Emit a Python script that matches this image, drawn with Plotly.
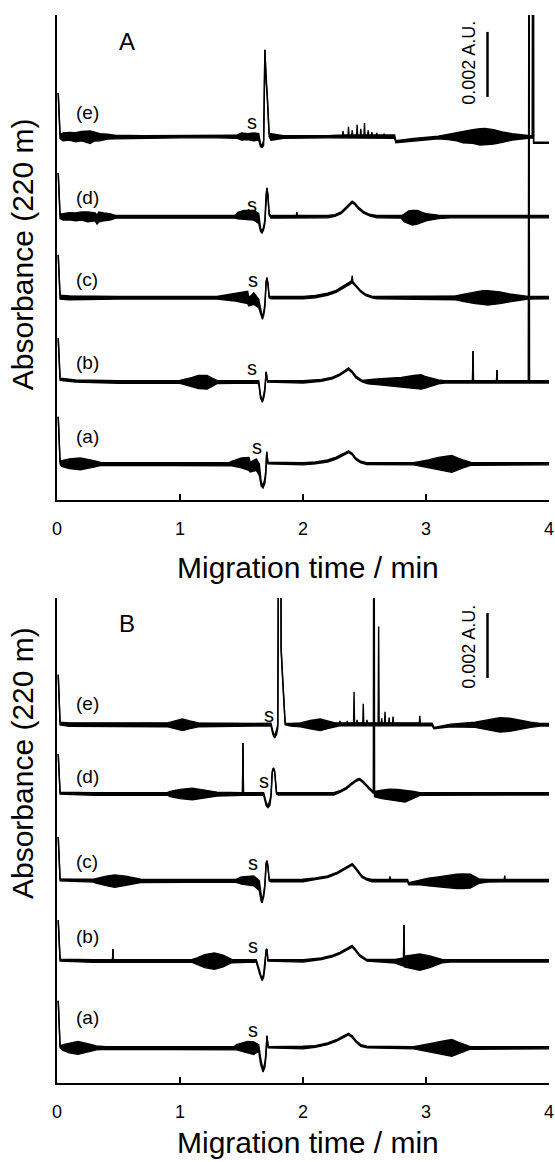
import plotly.graph_objects as go

# ---- data: (time / min, lower envelope, upper envelope) offsets in mAU from each trace baseline ----
time_ticks = [0, 1, 2, 3, 4]
trace_names = ["(a)", "(b)", "(c)", "(d)", "(e)"]

A_base = {"(a)": 1.11, "(b)": 3.63, "(c)": 6.22, "(d)": 8.71, "(e)": 11.17}
B_base = {"(a)": 1.08, "(b)": 3.75, "(c)": 6.22, "(d)": 8.89, "(e)": 11.02}

A_e = [(0.01, 1.35, 1.35), (0.025, -0.05, 0.08), (0.05, -0.12, 0.12), (0.1, -0.1, 0.14), (0.15, -0.15, 0.13),
       (0.2, -0.12, 0.17), (0.27, -0.2, 0.18), (0.3, -0.13, 0.15), (0.35, -0.12, 0.1), (0.41, -0.07, 0.08),
       (0.47, -0.06, 0.05), (0.7, -0.04, 0.04), (1.0, -0.03, 0.04), (1.3, -0.03, 0.04),
       (1.46, -0.04, 0.05), (1.5, -0.1, 0.12), (1.55, -0.08, 0.1), (1.6, -0.12, 0.12), (1.64, -0.1, 0.1),
       (1.655, -0.3, -0.22), (1.67, -0.32, -0.25), (1.68, -0.25, -0.1), (1.69, 2.68, 2.68), (1.70, 1.7, 1.9),
       (1.71, 1.25, 1.3), (1.725, 0.0, 0.1), (1.74, -0.1, 0.1), (1.78, -0.08, 0.08),
       (1.84, -0.04, 0.04), (2.2, -0.03, 0.04), (2.28, -0.03, 0.06),
       (2.321, -0.03, 0.06), (2.325, -0.03, 0.18), (2.329, -0.03, 0.06),
       (2.366, -0.03, 0.06), (2.37, -0.03, 0.31), (2.374, -0.03, 0.06),
       (2.396, -0.03, 0.06), (2.40, -0.03, 0.2), (2.404, -0.03, 0.06),
       (2.436, -0.03, 0.06), (2.44, -0.03, 0.37), (2.444, -0.03, 0.06),
       (2.466, -0.03, 0.06), (2.47, -0.03, 0.25), (2.474, -0.03, 0.06),
       (2.496, -0.03, 0.06), (2.50, -0.03, 0.43), (2.504, -0.03, 0.06),
       (2.526, -0.03, 0.06), (2.53, -0.03, 0.2), (2.534, -0.03, 0.06),
       (2.556, -0.03, 0.06), (2.56, -0.03, 0.15), (2.564, -0.03, 0.06),
       (2.596, -0.03, 0.06), (2.60, -0.03, 0.12), (2.604, -0.03, 0.06),
       (2.656, -0.03, 0.06), (2.66, -0.03, 0.1), (2.664, -0.03, 0.06),
       (2.745, -0.04, 0.06), (2.755, -0.18, -0.12), (2.9, -0.12, -0.05), (3.1, -0.06, 0.02), (3.18, -0.08, 0.08),
       (3.25, -0.12, 0.13), (3.3, -0.18, 0.18), (3.38, -0.2, 0.22), (3.44, -0.25, 0.25), (3.48, -0.24, 0.26),
       (3.55, -0.22, 0.22), (3.62, -0.17, 0.15), (3.7, -0.1, 0.1), (3.83, -0.04, 0.04),
       (3.865, -0.03, 0.03), (3.87, 20.0, 20.0), (3.875, -0.2, -0.16), (4.0, -0.2, -0.16)]

A_d = [(0.01, 1.35, 1.35), (0.025, -0.05, 0.08), (0.05, -0.1, 0.1), (0.1, -0.09, 0.13), (0.15, -0.12, 0.12),
       (0.2, -0.1, 0.15), (0.25, -0.15, 0.15), (0.31, -0.12, 0.12), (0.325, -0.22, 0.05), (0.34, -0.15, 0.15),
       (0.38, -0.12, 0.12), (0.43, -0.1, 0.1), (0.48, -0.04, 0.04),
       (1.0, -0.03, 0.04), (1.45, -0.04, 0.05), (1.47, -0.06, 0.14), (1.52, -0.08, 0.2), (1.6, -0.1, 0.2),
       (1.64, -0.2, 0.1), (1.655, -0.45, -0.35), (1.667, -0.5, -0.45), (1.68, -0.4, -0.3), (1.69, -0.2, -0.1),
       (1.70, 0.6, 0.7), (1.707, 0.89, 0.89), (1.715, 0.6, 0.7), (1.725, 0.05, 0.1), (1.74, -0.04, 0.04),
       (1.946, -0.03, 0.04), (1.95, -0.03, 0.15), (1.954, -0.03, 0.04),
       (2.2, -0.03, 0.04), (2.26, 0.02, 0.07), (2.31, 0.1, 0.15), (2.35, 0.24, 0.29), (2.38, 0.37, 0.42),
       (2.40, 0.43, 0.48), (2.42, 0.38, 0.43), (2.45, 0.25, 0.3), (2.49, 0.12, 0.17), (2.54, 0.03, 0.08),
       (2.6, -0.03, 0.04), (2.8, -0.04, 0.04), (2.82, -0.15, 0.08), (2.86, -0.2, 0.18), (2.89, -0.25, 0.2),
       (2.93, -0.22, 0.2), (2.97, -0.16, 0.14), (3.0, -0.12, 0.1), (3.1, -0.05, 0.05), (3.2, -0.03, 0.04),
       (4.0, -0.03, 0.04)]

A_c = [(0.01, 1.32, 1.32), (0.025, -0.04, 0.08), (0.1, -0.06, 0.06), (0.5, -0.04, 0.04), (1.3, -0.04, 0.04),
       (1.33, -0.05, 0.06), (1.4, -0.07, 0.1), (1.45, -0.1, 0.14), (1.5, -0.14, 0.17), (1.55, -0.18, 0.2),
       (1.56, -0.25, 0.0), (1.6, -0.2, 0.15), (1.64, -0.3, -0.05), (1.66, -0.6, -0.5), (1.67, -0.66, -0.6),
       (1.68, -0.55, -0.45), (1.69, -0.3, -0.2), (1.70, 0.45, 0.5), (1.707, 0.62, 0.62), (1.715, 0.4, 0.45),
       (1.725, 0.0, 0.05), (1.74, -0.03, 0.04),
       (2.0, -0.03, 0.04), (2.1, 0.0, 0.07), (2.2, 0.08, 0.14), (2.27, 0.17, 0.23), (2.33, 0.3, 0.36),
       (2.37, 0.4, 0.46), (2.395, 0.46, 0.52), (2.40, 0.46, 0.68), (2.405, 0.45, 0.5), (2.43, 0.34, 0.39),
       (2.47, 0.18, 0.22), (2.51, 0.07, 0.11), (2.56, 0.0, 0.05), (2.6, -0.03, 0.04),
       (3.2, -0.04, 0.04), (3.24, -0.06, 0.06), (3.32, -0.12, 0.12), (3.4, -0.18, 0.18), (3.46, -0.2, 0.22),
       (3.5, -0.22, 0.22), (3.55, -0.2, 0.21), (3.6, -0.18, 0.18), (3.68, -0.12, 0.12),
       (3.75, -0.08, 0.08), (3.83, -0.04, 0.04), (4.0, -0.03, 0.04)]

A_b = [(0.01, 1.35, 1.35), (0.025, 0.05, 0.12), (0.15, 0.0, 0.06), (0.5, -0.04, 0.04), (1.0, -0.04, 0.05),
       (1.04, -0.08, 0.08), (1.1, -0.15, 0.14), (1.15, -0.2, 0.2), (1.22, -0.22, 0.2), (1.26, -0.14, 0.12),
       (1.3, -0.05, 0.05), (1.6, -0.03, 0.04),
       (1.64, -0.05, 0.04), (1.655, -0.5, -0.4), (1.67, -0.62, -0.58), (1.68, -0.5, -0.4), (1.69, -0.3, -0.2),
       (1.70, 0.31, 0.31), (1.712, 0.0, 0.04),
       (2.0, -0.03, 0.04), (2.15, 0.02, 0.08), (2.24, 0.1, 0.15), (2.3, 0.2, 0.25), (2.34, 0.3, 0.35),
       (2.37, 0.38, 0.43), (2.40, 0.28, 0.33), (2.43, 0.12, 0.18), (2.48, 0.0, 0.05), (2.53, -0.06, 0.06),
       (2.6, -0.08, 0.09), (2.7, -0.12, 0.12), (2.8, -0.15, 0.14), (2.9, -0.2, 0.2), (2.96, -0.22, 0.22),
       (3.0, -0.18, 0.16), (3.1, -0.06, 0.06), (3.15, -0.03, 0.04),
       (3.378, -0.03, 0.04), (3.382, 0.95, 0.95), (3.386, -0.03, 0.04),
       (3.573, -0.03, 0.04), (3.577, 0.37, 0.37), (3.581, -0.03, 0.04),
       (3.833, -0.03, 0.04), (3.837, 20.0, 20.0), (3.841, -0.03, 0.04), (4.0, -0.03, 0.04)]

A_a = [(0.01, 1.45, 1.45), (0.025, 0.0, 0.08), (0.04, -0.08, 0.1), (0.1, -0.14, 0.15), (0.19, -0.18, 0.18),
       (0.25, -0.14, 0.14), (0.3, -0.1, 0.1), (0.36, -0.04, 0.04), (1.4, -0.04, 0.04), (1.42, -0.06, 0.08),
       (1.5, -0.12, 0.18), (1.56, -0.2, 0.2), (1.57, -0.25, 0.05), (1.62, -0.2, 0.15), (1.645, -0.35, 0.0),
       (1.66, -0.68, -0.55), (1.675, -0.74, -0.68), (1.69, -0.6, -0.45), (1.698, -0.3, -0.2),
       (1.705, 0.37, 0.37), (1.715, 0.0, 0.05), (2.0, -0.03, 0.04), (2.1, 0.0, 0.06), (2.2, 0.06, 0.12),
       (2.27, 0.15, 0.21), (2.33, 0.27, 0.32), (2.37, 0.35, 0.4), (2.40, 0.28, 0.33), (2.43, 0.13, 0.18),
       (2.47, 0.03, 0.08), (2.52, -0.02, 0.04), (2.9, -0.03, 0.04), (2.94, -0.06, 0.06), (3.02, -0.12, 0.12),
       (3.1, -0.2, 0.2), (3.16, -0.24, 0.23), (3.21, -0.26, 0.26), (3.26, -0.18, 0.18), (3.3, -0.12, 0.12),
       (3.37, -0.04, 0.04), (4.0, -0.03, 0.04)]

B_e = [(0.01, 1.54, 1.54), (0.025, 0.0, 0.08), (0.1, -0.05, 0.06), (0.8, -0.04, 0.04), (0.9, -0.06, 0.06),
       (0.96, -0.12, 0.12), (1.02, -0.18, 0.18), (1.08, -0.12, 0.12), (1.15, -0.06, 0.06), (1.6, -0.04, 0.04),
       (1.74, -0.04, 0.05), (1.755, -0.3, -0.2), (1.77, -0.4, -0.35), (1.785, -0.3, -0.15), (1.795, -0.1, 0.0),
       (1.813, 20.0, 20.0), (1.822, 2.3, 2.4), (1.829, 1.78, 1.85), (1.845, 0.5, 0.6), (1.855, 0.0, 0.05),
       (1.9, -0.04, 0.04), (1.98, -0.06, 0.06), (2.06, -0.12, 0.13), (2.14, -0.18, 0.18), (2.2, -0.12, 0.12),
       (2.26, -0.05, 0.06),
       (2.296, -0.03, 0.06), (2.30, -0.03, 0.12), (2.304, -0.03, 0.06),
       (2.356, -0.03, 0.06), (2.36, -0.03, 0.12), (2.364, -0.03, 0.06),
       (2.411, -0.03, 0.06), (2.415, -0.03, 1.02), (2.419, -0.03, 0.06),
       (2.436, -0.03, 0.06), (2.44, -0.03, 0.15), (2.444, -0.03, 0.06),
       (2.486, -0.03, 0.06), (2.49, -0.03, 0.65), (2.494, -0.03, 0.06),
       (2.516, -0.03, 0.06), (2.52, -0.03, 0.15), (2.524, -0.03, 0.06),
       (2.611, -0.03, 0.06), (2.615, -0.03, 3.02), (2.619, -0.03, 0.06),
       (2.636, -0.03, 0.06), (2.64, -0.03, 0.2), (2.644, -0.03, 0.06),
       (2.663, -0.03, 0.06), (2.667, -0.03, 0.4), (2.671, -0.03, 0.06),
       (2.696, -0.03, 0.06), (2.70, -0.03, 0.22), (2.704, -0.03, 0.06),
       (2.728, -0.03, 0.06), (2.732, -0.03, 0.25), (2.736, -0.03, 0.06),
       (2.946, -0.03, 0.06), (2.95, -0.03, 0.28), (2.954, -0.03, 0.05),
       (3.05, -0.03, 0.05), (3.065, -0.12, -0.08), (3.2, -0.06, 0.02), (3.4, -0.08, 0.08), (3.5, -0.15, 0.15),
       (3.6, -0.22, 0.22), (3.68, -0.2, 0.2), (3.76, -0.14, 0.14), (3.85, -0.08, 0.08),
       (3.93, -0.04, 0.04), (4.0, -0.04, 0.04)]

B_d = [(0.01, 1.23, 1.23), (0.025, 0.0, 0.06), (0.3, -0.04, 0.04), (0.9, -0.04, 0.05), (0.92, -0.08, 0.08),
       (1.0, -0.14, 0.14), (1.1, -0.18, 0.18), (1.2, -0.12, 0.12), (1.3, -0.06, 0.06),
       (1.508, -0.04, 0.04), (1.512, 1.57, 1.57), (1.516, -0.04, 0.04),
       (1.68, -0.04, 0.04), (1.70, -0.35, -0.25), (1.715, -0.42, -0.38), (1.73, -0.35, -0.2), (1.74, -0.1, 0.0),
       (1.75, 0.65, 0.7), (1.76, 0.8, 0.8), (1.77, 0.65, 0.7), (1.785, 0.0, 0.05),
       (1.8, -0.03, 0.04), (2.25, -0.03, 0.04), (2.3, 0.05, 0.1), (2.35, 0.15, 0.2), (2.4, 0.3, 0.35),
       (2.44, 0.41, 0.46), (2.46, 0.43, 0.48), (2.49, 0.34, 0.39), (2.52, 0.22, 0.27), (2.55, 0.09, 0.14),
       (2.573, 0.02, 0.07), (2.577, 20.0, 20.0), (2.581, -0.08, 0.08), (2.64, -0.14, 0.12), (2.7, -0.18, 0.15),
       (2.77, -0.22, 0.14), (2.83, -0.25, 0.12), (2.87, -0.18, 0.1), (2.9, -0.12, 0.08), (2.95, -0.04, 0.04),
       (4.0, -0.03, 0.04)]

B_c = [(0.01, 1.35, 1.35), (0.025, 0.0, 0.06), (0.3, -0.04, 0.05), (0.31, -0.06, 0.06), (0.4, -0.15, 0.14),
       (0.47, -0.2, 0.18), (0.56, -0.14, 0.14), (0.68, -0.05, 0.05), (1.45, -0.04, 0.04), (1.5, -0.1, 0.12),
       (1.6, -0.15, 0.15), (1.645, -0.3, 0.0), (1.658, -0.6, -0.5), (1.667, -0.68, -0.62), (1.68, -0.5, -0.4),
       (1.69, -0.2, -0.1), (1.70, 0.5, 0.55), (1.707, 0.62, 0.62), (1.714, 0.45, 0.5), (1.725, 0.0, 0.05),
       (1.74, -0.03, 0.04), (2.0, -0.03, 0.05), (2.1, 0.04, 0.09), (2.2, 0.1, 0.15), (2.28, 0.22, 0.27),
       (2.34, 0.36, 0.41), (2.38, 0.46, 0.51), (2.40, 0.48, 0.53), (2.42, 0.4, 0.45), (2.45, 0.25, 0.3),
       (2.48, 0.1, 0.15), (2.52, 0.02, 0.07), (2.56, -0.03, 0.04),
       (2.703, -0.03, 0.04), (2.707, -0.03, 0.14), (2.711, -0.03, 0.04), (2.85, -0.03, 0.04),
       (2.86, -0.12, -0.06), (2.95, -0.12, 0.02), (3.02, -0.15, 0.08), (3.1, -0.18, 0.12), (3.18, -0.22, 0.17),
       (3.25, -0.24, 0.2), (3.3, -0.24, 0.21), (3.36, -0.22, 0.2), (3.43, -0.08, 0.06),
       (3.5, -0.04, 0.04), (3.636, -0.03, 0.04), (3.64, -0.03, 0.16), (3.644, -0.03, 0.04), (4.0, -0.03, 0.04)]

B_b = [(0.01, 1.26, 1.26), (0.025, 0.0, 0.06), (0.3, -0.04, 0.04),
       (0.451, -0.03, 0.04), (0.455, 0.37, 0.37), (0.459, -0.03, 0.04),
       (1.1, -0.04, 0.05), (1.14, -0.1, 0.1), (1.2, -0.2, 0.2), (1.28, -0.25, 0.25), (1.35, -0.18, 0.18),
       (1.42, -0.05, 0.05), (1.62, -0.03, 0.04), (1.648, -0.4, -0.3), (1.667, -0.6, -0.55), (1.68, -0.5, -0.4),
       (1.69, -0.2, -0.1), (1.70, 0.3, 0.35), (1.707, 0.37, 0.37), (1.715, 0.0, 0.04),
       (2.0, -0.03, 0.04), (2.15, 0.05, 0.1), (2.24, 0.13, 0.18), (2.3, 0.22, 0.27), (2.35, 0.33, 0.38),
       (2.40, 0.43, 0.48), (2.43, 0.3, 0.35), (2.46, 0.15, 0.2), (2.52, 0.0, 0.05), (2.75, -0.06, 0.05),
       (2.817, -0.15, 0.1), (2.821, 1.11, 1.11), (2.825, -0.18, 0.15), (2.9, -0.24, 0.2),
       (2.95, -0.28, 0.22), (3.03, -0.2, 0.16), (3.13, -0.05, 0.05), (3.2, -0.03, 0.04), (4.0, -0.03, 0.04)]

B_a = [(0.01, 1.45, 1.45), (0.025, 0.0, 0.06), (0.05, -0.08, 0.1), (0.1, -0.15, 0.15), (0.17, -0.2, 0.2),
       (0.25, -0.13, 0.13), (0.32, -0.06, 0.06), (0.4, -0.04, 0.04), (1.44, -0.04, 0.04), (1.46, -0.06, 0.1),
       (1.55, -0.15, 0.2), (1.6, -0.2, 0.18), (1.64, -0.1, 0.1), (1.655, -0.5, -0.3), (1.675, -0.74, -0.68),
       (1.69, -0.6, -0.45), (1.698, -0.3, -0.2), (1.707, 0.37, 0.37), (1.717, 0.0, 0.04),
       (2.0, -0.03, 0.05), (2.1, 0.02, 0.07), (2.2, 0.1, 0.15), (2.27, 0.2, 0.25), (2.33, 0.32, 0.37),
       (2.37, 0.4, 0.45), (2.40, 0.32, 0.37), (2.43, 0.18, 0.23), (2.47, 0.05, 0.1), (2.52, 0.0, 0.05),
       (2.9, -0.03, 0.04), (2.94, -0.06, 0.06), (3.02, -0.12, 0.12), (3.1, -0.18, 0.18), (3.16, -0.23, 0.23),
       (3.21, -0.26, 0.26), (3.26, -0.18, 0.18), (3.3, -0.12, 0.12), (3.36, -0.04, 0.04), (4.0, -0.03, 0.04)]

# label positions (time, mAU)
A_trace_label_y = {"(a)": 1.94, "(b)": 4.22, "(c)": 6.77, "(d)": 9.32, "(e)": 11.91}
B_trace_label_y = {"(a)": 2.0, "(b)": 4.52, "(c)": 6.8, "(d)": 9.42, "(e)": 11.69}
A_s_pos = [(1.585, 11.63), (1.585, 9.08), (1.59, 6.77), (1.585, 4.06), (1.63, 1.63)]
B_s_pos = [(1.72, 11.32), (1.68, 9.29), (1.59, 6.77), (1.59, 4.22), (1.59, 1.63)]
scale_bar_mAU = 2.0  # 0.002 A.U.

A_traces = {"(a)": A_a, "(b)": A_b, "(c)": A_c, "(d)": A_d, "(e)": A_e}
B_traces = {"(a)": B_a, "(b)": B_b, "(c)": B_c, "(d)": B_d, "(e)": B_e}

FONT = "Liberation Sans, Arial, sans-serif"
LW = 1.4

fig = go.Figure()


def add_trace(points, base, xa, ya):
    t = [p[0] for p in points]
    lo = [base + p[1] for p in points]
    hi = [base + p[2] for p in points]
    fig.add_trace(go.Scatter(x=t, y=lo, mode="lines", line=dict(color="black", width=LW),
                             xaxis=xa, yaxis=ya, showlegend=False, hoverinfo="skip"))
    fig.add_trace(go.Scatter(x=t, y=hi, mode="lines", line=dict(color="black", width=LW),
                             fill="tonexty", fillcolor="black",
                             xaxis=xa, yaxis=ya, showlegend=False, hoverinfo="skip"))


for name in trace_names:
    add_trace(A_traces[name], A_base[name], "x", "y")
    add_trace(B_traces[name], B_base[name], "x2", "y2")

axis_common = dict(range=[0, 4], tickvals=time_ticks, ticks="inside", ticklen=6, tickwidth=2,
                   tickcolor="black", showline=True, linecolor="black", linewidth=2,
                   showgrid=False, zeroline=False, tickfont=dict(family=FONT, size=18, color="black"),
                   ticklabelstandoff=11, automargin=False)
yaxis_common = dict(range=[0, 14.92], showline=True, linecolor="black", linewidth=2,
                    showticklabels=False, ticks="", showgrid=False, zeroline=False, automargin=False)

fig.update_layout(
    template="none",
    width=555, height=1162,
    margin=dict(l=57, r=6, t=15, b=79),
    paper_bgcolor="white", plot_bgcolor="white",
    xaxis=dict(axis_common, anchor="y"),
    yaxis=dict(yaxis_common, domain=[0.5459, 1.0], anchor="x"),
    xaxis2=dict(axis_common, anchor="y2"),
    yaxis2=dict(yaxis_common, domain=[0.0, 0.4541], anchor="x2"),
)

ann = []
for xr, yr, lab, lab_y, s_pos, ypan in [("x", "y", "A", A_trace_label_y, A_s_pos, 14.09),
                                         ("x2", "y2", "B", B_trace_label_y, B_s_pos, 14.15)]:
    ann.append(dict(x=0.57, y=ypan, xref=xr, yref=yr, text=lab, showarrow=False,
                    font=dict(family=FONT, size=24, color="black")))
    for name in trace_names:
        ann.append(dict(x=0.244, y=lab_y[name], xref=xr, yref=yr, text=name, showarrow=False,
                        font=dict(family=FONT, size=19, color="black")))
    for (sx, sy) in s_pos:
        ann.append(dict(x=sx, y=sy, xref=xr, yref=yr, text="s", showarrow=False,
                        font=dict(family=FONT, size=20, color="black")))

# scale bars
for xr, yr, y0, ty in [("x", "y", 12.4, 13.45), ("x2", "y2", 12.46, 13.42)]:
    fig.add_shape(type="line", xref=xr, yref=yr, x0=3.5, x1=3.5, y0=y0, y1=y0 + scale_bar_mAU,
                  line=dict(color="black", width=2.5))
    ann.append(dict(x=3.35, y=ty, xref=xr, yref=yr, text="0.002 A.U.", textangle=-90, showarrow=False,
                    xanchor="center", yanchor="middle",
                    font=dict(family=FONT, size=18, color="black")))

# axis titles
for yc in [0.776, 0.2996]:
    ann.append(dict(x=-0.0711, y=yc, xref="paper", yref="paper", text="Absorbance (220 m)", textangle=-90,
                    xanchor="center", yanchor="middle",
                    showarrow=False, font=dict(family=FONT, size=30, color="black")))
for yc in [0.4831, -0.0555]:
    ann.append(dict(x=0.51, y=yc, xref="paper", yref="paper", xanchor="center", yanchor="middle",
                    text="Migration time / min", showarrow=False,
                    font=dict(family=FONT, size=30, color="black")))

fig.update_layout(annotations=ann)
fig.write_html("out.html")
